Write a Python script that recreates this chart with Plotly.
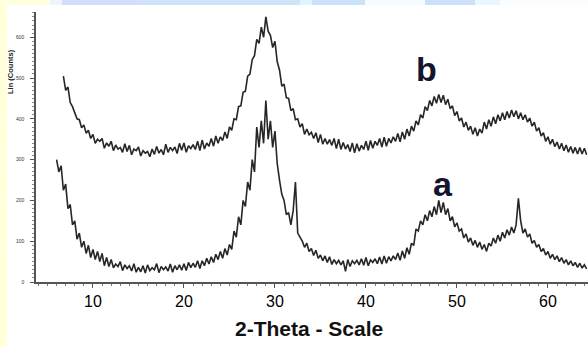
import numpy as np
import plotly.graph_objects as go

# ---- data ----
a_start, b_start, step = 6.0, 6.75, 0.25

counts_a = [
    300, 270, 285, 225,   # 6
    240, 180, 190, 140,   # 7
    150, 105, 120, 85,    # 8
    100, 70, 90, 60,      # 9
    80, 55, 75, 50,       # 10
    70, 40, 60, 38,       # 11
    55, 35, 44, 38,       # 12
    50, 28, 42, 33,       # 13
    40, 27, 45, 24,       # 14
    36, 25, 40, 22,       # 15
    42, 28, 35, 30,       # 16
    45, 23, 38, 30,       # 17
    37, 27, 44, 24,       # 18
    40, 30, 42, 29,       # 19
    45, 28, 48, 35,       # 20
    46, 36, 52, 33,       # 21
    52, 40, 58, 44,       # 22
    62, 48, 68, 55,       # 23
    75, 58, 82, 66,       # 24
    92, 80, 125, 110,     # 25
    160, 140, 200, 185,   # 26
    245, 225, 300, 270,   # 27
    380, 330, 395, 340,   # 28
    445, 350, 395, 330,   # 29
    370, 290, 250, 215,   # 30
    200, 165, 170, 140,   # 31
    175, 245, 120, 110,   # 32
    100, 85, 95, 75,      # 33
    82, 65, 78, 58,       # 34
    66, 52, 64, 48,       # 35
    62, 43, 55, 45,       # 36
    53, 42, 52, 26,       # 37
    55, 38, 52, 45,       # 38
    53, 42, 57, 41,       # 39
    60, 40, 54, 48,       # 40
    57, 45, 61, 44,       # 41
    64, 46, 62, 52,       # 42
    64, 55, 71, 53,       # 43
    76, 58, 84, 68,       # 44
    95, 90, 130, 125,     # 45
    150, 140, 165, 150,   # 46
    175, 160, 185, 165,   # 47
    200, 170, 195, 165,   # 48
    180, 150, 160, 135,   # 49
    145, 125, 130, 108,   # 50
    118, 98, 108, 90,     # 51
    102, 85, 98, 80,      # 52
    92, 75, 95, 88,       # 53
    108, 95, 115, 100,    # 54
    122, 108, 128, 115,   # 55
    135, 120, 140, 205,   # 56
    150, 120, 130, 110,   # 57
    118, 95, 102, 85,     # 58
    92, 75, 82, 66,       # 59
    75, 58, 68, 55,       # 60
    64, 50, 60, 46,       # 61
    55, 42, 52, 40,       # 62
    48, 36, 46, 34,       # 63
    42, 32,               # 64
]

counts_b = [
    505,                  # 6.75
    470, 478, 440, 430,   # 7
    412, 400, 398, 378,   # 8
    385, 365, 372, 352,   # 9
    362, 340, 350, 345,   # 10
    352, 328, 341, 333,   # 11
    345, 322, 336, 326,   # 12
    330, 318, 339, 320,   # 13
    335, 312, 326, 322,   # 14
    331, 309, 322, 316,   # 15
    320, 307, 326, 313,   # 16
    332, 316, 325, 312,   # 17
    338, 318, 330, 322,   # 18
    331, 315, 340, 323,   # 19
    341, 318, 334, 327,   # 20
    337, 325, 345, 322,   # 21
    348, 326, 341, 333,   # 22
    352, 333, 358, 340,   # 23
    356, 347, 368, 352,   # 24
    380, 372, 400, 398,   # 25
    430, 432, 465, 468,   # 26
    505, 510, 545, 555,   # 27
    595, 585, 625, 600,   # 28
    650, 615, 605, 575,   # 29
    590, 540, 520, 480,   # 30
    485, 452, 450, 420,   # 31
    425, 398, 400, 380,   # 32
    388, 362, 375, 361,   # 33
    367, 352, 366, 342,   # 34
    362, 338, 352, 338,   # 35
    349, 335, 352, 327,   # 36
    350, 325, 342, 326,   # 37
    337, 320, 341, 317,   # 38
    339, 321, 335, 325,   # 39
    345, 323, 347, 328,   # 40
    345, 335, 352, 331,   # 41
    355, 333, 352, 341,   # 42
    356, 345, 364, 344,   # 43
    368, 350, 375, 358,   # 44
    382, 370, 395, 385,   # 45
    410, 402, 430, 420,   # 46
    445, 432, 455, 438,   # 47
    460, 440, 458, 435,   # 48
    448, 425, 432, 408,   # 49
    418, 395, 402, 380,   # 50
    392, 372, 382, 362,   # 51
    378, 358, 375, 365,   # 52
    392, 375, 398, 382,   # 53
    405, 388, 410, 395,   # 54
    415, 398, 418, 402,   # 55
    422, 405, 420, 400,   # 56
    415, 398, 410, 392,   # 57
    402, 382, 392, 370,   # 58
    378, 358, 366, 345,   # 59
    356, 338, 350, 332,   # 60
    343, 326, 340, 322,   # 61
    336, 318, 332, 316,   # 62
    330, 314, 330, 314,   # 63
    328, 312,             # 64
]

x_ticks = [10, 20, 30, 40, 50, 60]
y_ticks = [0, 100, 200, 300, 400, 500, 600]
x_title = "2-Theta - Scale"
y_title = "Lin (Counts)"
curve_labels = ["a", "b"]

theta_a = np.round(a_start + step * np.arange(len(counts_a)), 2)
theta_b = np.round(b_start + step * np.arange(len(counts_b)), 2)

W, H = 588, 347
ML, MR, MT, MB = 36, 0, 12, 65
PW, PH = W - ML - MR, H - MT - MB


def px(xp):
    return (xp - ML) / PW


def py(yp):
    return (H - MB - yp) / PH


fig = go.Figure()
line_style = dict(color="#262626", width=1.6)
fig.add_trace(go.Scatter(x=theta_a, y=counts_a, mode="lines", line=line_style,
                         showlegend=False, hoverinfo="skip"))
fig.add_trace(go.Scatter(x=theta_b, y=counts_b, mode="lines", line=line_style,
                         showlegend=False, hoverinfo="skip"))

# background decoration (slide edges)
shapes = []
shapes.append(dict(type="rect", xref="paper", yref="paper", x0=px(0), x1=px(7),
                   y0=py(H), y1=py(0), fillcolor="#FFFFDA", line_width=0, layer="below"))
strip = [(0, 50, "#FFFFDC"), (50, 62, "#EEF4FF"), (62, 135, "#D3DCFC"),
         (135, 300, "#CFE3FA"), (300, 312, "#E0F4FF"), (312, 365, "#CCE2FA"),
         (365, 425, "#F6FBFF"), (425, 475, "#CCE0FA"), (475, 500, "#EAF6FF"),
         (500, 588, "#FAFDFF")]
for x0, x1, c in strip:
    shapes.append(dict(type="rect", xref="paper", yref="paper", x0=px(x0), x1=px(x1),
                       y0=py(5), y1=py(0), fillcolor=c, line_width=0, layer="below"))

annotations = [
    dict(text=f"<b>{y_title}</b>", xref="paper", yref="paper", x=px(10), y=py(72),
         xanchor="center", yanchor="middle",
         textangle=-90, showarrow=False, font=dict(size=7.5, color="#222",
                                                   family="Liberation Sans")),
    dict(text=f"<b>{x_title}</b>", xref="paper", yref="paper", x=px(309), y=py(328),
         xanchor="center", yanchor="middle",
         showarrow=False, font=dict(size=21, color="#111", family="Liberation Sans")),
    dict(text=f"<b>{curve_labels[1]}</b>", xref="x", yref="y", x=46.7, y=522,
         xanchor="center", yanchor="middle",
         showarrow=False, font=dict(size=34, color="#14142e", family="Liberation Sans")),
    dict(text=f"<b>{curve_labels[0]}</b>", xref="x", yref="y", x=48.46, y=240,
         xanchor="center", yanchor="middle",
         showarrow=False, font=dict(size=34, color="#14142e", family="Liberation Sans")),
]

fig.update_layout(
    width=W, height=H,
    margin=dict(l=ML, r=MR, t=MT, b=MB, pad=0),
    paper_bgcolor="white", plot_bgcolor="white",
    shapes=shapes, annotations=annotations,
    xaxis=dict(range=[3.74, 64.4], showline=True, linecolor="#555", linewidth=1.5,
               ticks="outside", ticklen=4, tickcolor="#555", tickvals=x_ticks,
               tickfont=dict(family="Liberation Sans Narrow, Liberation Sans", size=16, color="#000"),
               minor=dict(dtick=1, ticks="outside", ticklen=2, tickcolor="#777"),
               showgrid=False, zeroline=False),
    yaxis=dict(range=[0, 662], showline=True, linecolor="#555", linewidth=1.5,
               ticks="outside", ticklen=4, tickcolor="#555", tickvals=y_ticks,
               tickfont=dict(family="Liberation Sans", size=5, color="#333"),
               ticklabelstandoff=5,
               minor=dict(dtick=10, ticks="outside", ticklen=2, tickcolor="#888"),
               showgrid=False, zeroline=False),
)

fig.write_html("out.html", config={"displayModeBar": False},
               post_script="document.body.style.margin='0';")
